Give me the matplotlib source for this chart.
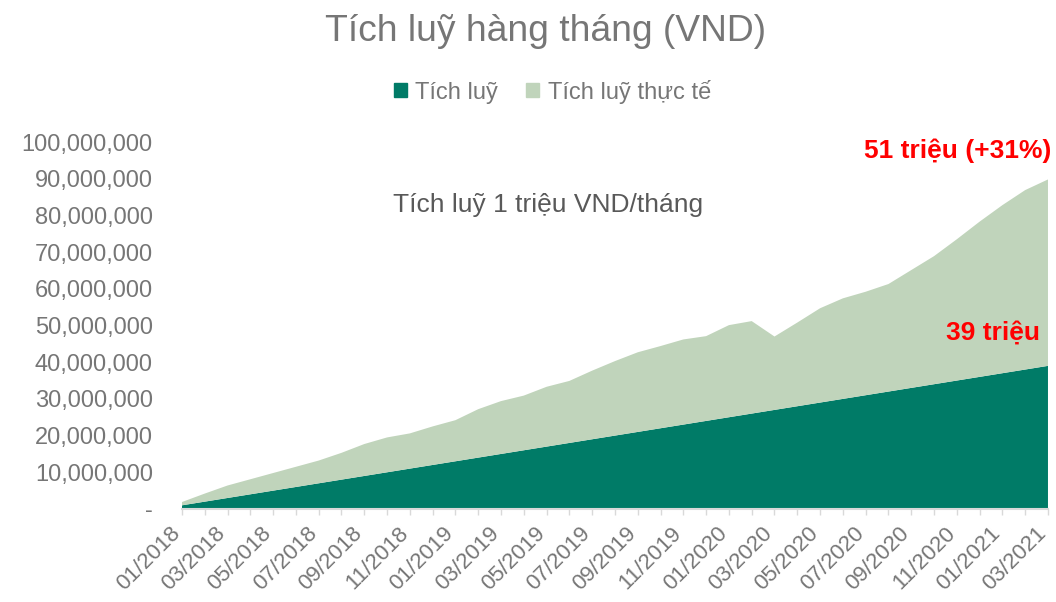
import matplotlib
matplotlib.use('Agg')
import matplotlib.pyplot as plt
from matplotlib.ticker import FuncFormatter
from matplotlib.patches import Patch
from matplotlib.transforms import ScaledTranslation

plt.rcParams['font.family'] = ['Liberation Sans', 'DejaVu Sans']

# months 01/2018 .. 03/2021
months = ['01/2018', '02/2018', '03/2018', '04/2018', '05/2018', '06/2018',
          '07/2018', '08/2018', '09/2018', '10/2018', '11/2018', '12/2018',
          '01/2019', '02/2019', '03/2019', '04/2019', '05/2019', '06/2019',
          '07/2019', '08/2019', '09/2019', '10/2019', '11/2019', '12/2019',
          '01/2020', '02/2020', '03/2020', '04/2020', '05/2020', '06/2020',
          '07/2020', '08/2020', '09/2020', '10/2020', '11/2020', '12/2020',
          '01/2021', '02/2021', '03/2021']

# values in million VND (stacked area)
tich_luy = [1, 2, 3, 4, 5, 6, 7, 8, 9, 10, 11, 12, 13, 14, 15, 16, 17, 18, 19, 20,
            21, 22, 23, 24, 25, 26, 27, 28, 29, 30, 31, 32, 33, 34, 35, 36, 37, 38, 39]
tich_luy_thuc_te = [0.9, 2.2, 3.4, 4.1, 4.8, 5.5, 6.2, 7.3, 8.7, 9.5, 9.6, 10.5, 11.2,
                    13.2, 14.4, 14.9, 16.3, 16.9, 18.7, 20.3, 21.7, 22.4, 23.2, 23.1,
                    25.1, 25.2, 20.0, 22.8, 25.7, 27.4, 28.2, 29.3, 32.1, 34.9, 38.5,
                    42.3, 45.8, 48.9, 50.8]

dark = '#007B67'
light = '#C0D4BB'
grey = '#767676'

x = list(range(len(months)))
s1 = [v * 1e6 for v in tich_luy]
s2 = [v * 1e6 for v in tich_luy_thuc_te]

fig = plt.figure(figsize=(10.56, 6.02), dpi=100)
ax = fig.add_axes([0.1723, 0.1545, 0.8201, 0.6096])
ax.stackplot(x, s1, s2, colors=[dark, light], linewidth=0)

ax.set_xlim(0, len(months) - 1)
ax.set_ylim(0, 100e6)
ax.set_yticks([i * 10e6 for i in range(11)])
ax.yaxis.set_major_formatter(FuncFormatter(lambda v, p: '-' if v == 0 else f'{v:,.0f}'))
ax.tick_params(axis='y', length=0, labelsize=17, labelcolor=grey, pad=21)

ax.set_xticks(x)
ax.set_xticklabels([m if i % 2 == 0 else '' for i, m in enumerate(months)])
ax.tick_params(axis='x', length=4.3, width=1, color='#D9D9D9', labelsize=16,
               labelcolor=grey, pad=11)
shift = ScaledTranslation(-0.05, 0, fig.dpi_scale_trans)
for lbl in ax.get_xticklabels():
    lbl.set_rotation(45)
    lbl.set_ha('right')
    lbl.set_va('center')
    lbl.set_rotation_mode('anchor')
    lbl.set_transform(lbl.get_transform() + shift)

for side in ['top', 'right', 'left']:
    ax.spines[side].set_visible(False)
ax.spines['bottom'].set_color('#D9D9D9')
ax.spines['bottom'].set_linewidth(1.5)

fig.text(0.517, 0.948, 'Tích luỹ hàng tháng (VND)', ha='center', va='center',
         fontsize=26.8, color=grey)
handles = [Patch(color=dark), Patch(color=light)]
fig.legend(handles, ['Tích luỹ', 'Tích luỹ thực tế'], loc='center',
           bbox_to_anchor=(0.523, 0.848), ncol=2, frameon=False, fontsize=17,
           labelcolor=grey, handlelength=0.55, handleheight=0.55,
           handletextpad=0.35, columnspacing=1.2)

fig.text(0.372, 0.66, 'Tích luỹ 1 triệu VND/tháng', ha='left', va='center',
         fontsize=19, color='#595959')
fig.text(0.996, 0.75, '51 triệu (+31%)', ha='right', va='center',
         fontsize=19, color='#FF0000', fontweight='bold')
fig.text(0.985, 0.448, '39 triệu', ha='right', va='center',
         fontsize=19, color='#FF0000', fontweight='bold')

fig.savefig('out.png', dpi=100, facecolor='white')
